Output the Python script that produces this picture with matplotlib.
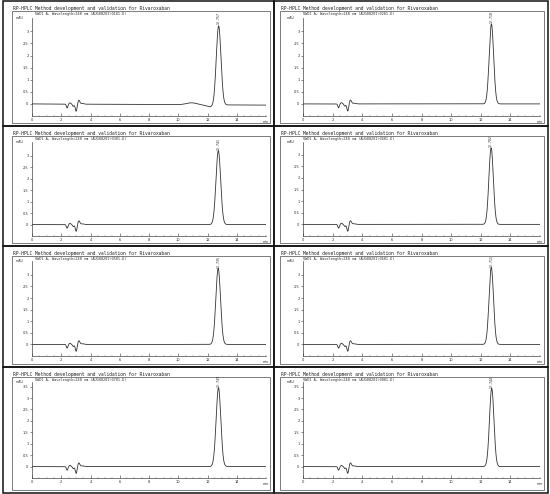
import numpy as np
import matplotlib.pyplot as plt
from matplotlib.patches import Rectangle

W, H = 550, 494

# run labels / retention of the main peak (min) and its height (mAU), per panel
# order: row by row, left then right
titles = ["RP-HPLC Method development and validation for Rivaroxaban"] * 8
subtitles = ["VWD1 A, Wavelength=248 nm (AUG08201\\0101.D)",
             "VWD1 A, Wavelength=248 nm (AUG08201\\0201.D)",
             "VWD1 A, Wavelength=248 nm (AUG08201\\0301.D)",
             "VWD1 A, Wavelength=248 nm (AUG08201\\0401.D)",
             "VWD1 A, Wavelength=248 nm (AUG08201\\0501.D)",
             "VWD1 A, Wavelength=248 nm (AUG08201\\0601.D)",
             "VWD1 A, Wavelength=248 nm (AUG08201\\0701.D)",
             "VWD1 A, Wavelength=248 nm (AUG08201\\0801.D)"]
peak_rt = [12.76, 12.72, 12.74, 12.70, 12.73, 12.71, 12.75, 12.74]
peak_h = [3.28, 3.30, 3.22, 3.30, 3.28, 3.32, 3.45, 3.42]
peak_sd = [0.16, 0.15, 0.16, 0.15, 0.16, 0.15, 0.16, 0.15]
peak_lab = ["12.757", "12.718", "12.741", "12.702", "12.735", "12.711", "12.749", "12.744"]
y_top = [3.55, 3.55, 3.6, 3.55, 3.6, 3.6, 3.7, 3.7]
y_ticks = [[0, 0.5, 1, 1.5, 2, 2.5, 3]] * 6 + [[0, 0.5, 1, 1.5, 2, 2.5, 3, 3.5]] * 2

# solvent-front disturbance around 2.4-3.3 min (same for all runs)
front_t = [2.40, 2.60, 2.82, 3.02, 3.20, 3.45]
front_a = [-0.16, 0.05, -0.09, -0.30, 0.16, 0.03]
front_sd = [0.05, 0.06, 0.05, 0.06, 0.07, 0.1]
# extra small features in first run
extra_t = [10.9, 12.2]
extra_a = [0.08, -0.08]
extra_sd = [0.35, 0.3]

x_ticks = [0, 2, 4, 6, 8, 10, 12, 14]

cols = [(3, 274), (274, 548)]
rows = [(1, 126), (126, 246), (246, 367), (367, 493)]
ax_top = [18, 142, 261, 382]
ax_bot = [116, 236, 356, 478]


def box(x0, y0, x1, y1):
    return [x0 / W, 1 - y1 / H, (x1 - x0) / W, (y1 - y0) / H]


fig = plt.figure(figsize=(5.5, 4.94), dpi=100)
bg = fig.add_axes([0, 0, 1, 1])
bg.set_xlim(0, W)
bg.set_ylim(H, 0)
bg.axis('off')

# cell grid
for (x0, x1) in cols:
    for (y0, y1) in rows:
        bg.add_patch(Rectangle((x0, y0), x1 - x0, y1 - y0, fill=False,
                               ec='#111111', lw=1.1))

t = np.linspace(0, 16, 3000)
mono = 'DejaVu Sans Mono'

for i in range(8):
    r, c = divmod(i, 2)
    x0, x1 = cols[c]
    y0, y1 = rows[r]
    # inner frame of the printout
    fx0 = x0 + (9 if c == 0 else 6)
    bg.add_patch(Rectangle((fx0, y0 + 10), x1 - 4 - fx0, y1 - y0 - 13,
                           fill=False, ec='#666666', lw=0.6))
    bg.text(fx0 + 1, y0 + 9, titles[i], fontsize=3.3, family=mono,
            color='#222222', va='baseline')
    bg.text(fx0 + 23, y0 + 13.5, subtitles[i], fontsize=2.6, family=mono,
            color='#333333', va='baseline')

    ax = fig.add_axes(box(x0 + 29, ax_top[r], x1 - 8, ax_bot[r]))
    sig = peak_h[i] * np.exp(-0.5 * ((t - peak_rt[i]) / peak_sd[i]) ** 2)
    for ft, fa, fs in zip(front_t, front_a, front_sd):
        sig = sig + fa * np.exp(-0.5 * ((t - ft) / fs) ** 2)
    if i == 0:
        for ft, fa, fs in zip(extra_t, extra_a, extra_sd):
            sig = sig + fa * np.exp(-0.5 * ((t - ft) / fs) ** 2)
        sig = sig - 0.05 * t / 16
    ax.plot(t, sig, color='#333333', lw=0.6)
    ax.text(peak_rt[i], peak_h[i] + 0.03, peak_lab[i], rotation=90,
            fontsize=2.3, ha='center', va='bottom', color='#222222', family=mono)

    ax.set_xlim(0, 16)
    ax.set_ylim(-0.5, y_top[i])
    for s in ['top', 'right']:
        ax.spines[s].set_visible(False)
    for s in ['left', 'bottom']:
        ax.spines[s].set_linewidth(0.5)
        ax.spines[s].set_color('#444444')
    ax.set_yticks(y_ticks[i])
    ax.set_yticklabels([('%g' % v) for v in y_ticks[i]])
    ax.set_xticks(x_ticks)
    ax.set_xticklabels([str(v) for v in x_ticks])
    ax.set_xticks(np.arange(0, 16.01, 0.5), minor=True)
    ax.tick_params(axis='y', direction='out', length=1.5, width=0.4,
                   labelsize=2.6, pad=1, colors='#333333')
    ax.tick_params(axis='x', which='major', direction='in', length=2, width=0.4,
                   labelsize=2.6, pad=1.5, colors='#333333')
    ax.tick_params(axis='x', which='minor', direction='in', length=1, width=0.3,
                   colors='#666666')
    ax.text(-0.035, 1.0, 'mAU', transform=ax.transAxes, fontsize=2.4,
            ha='right', va='center', color='#333333')
    ax.text(1.0, -0.045, 'min', transform=ax.transAxes, fontsize=2.4,
            ha='center', va='top', color='#333333')
    ax.patch.set_alpha(0)

fig.savefig('out.png', dpi=100)
